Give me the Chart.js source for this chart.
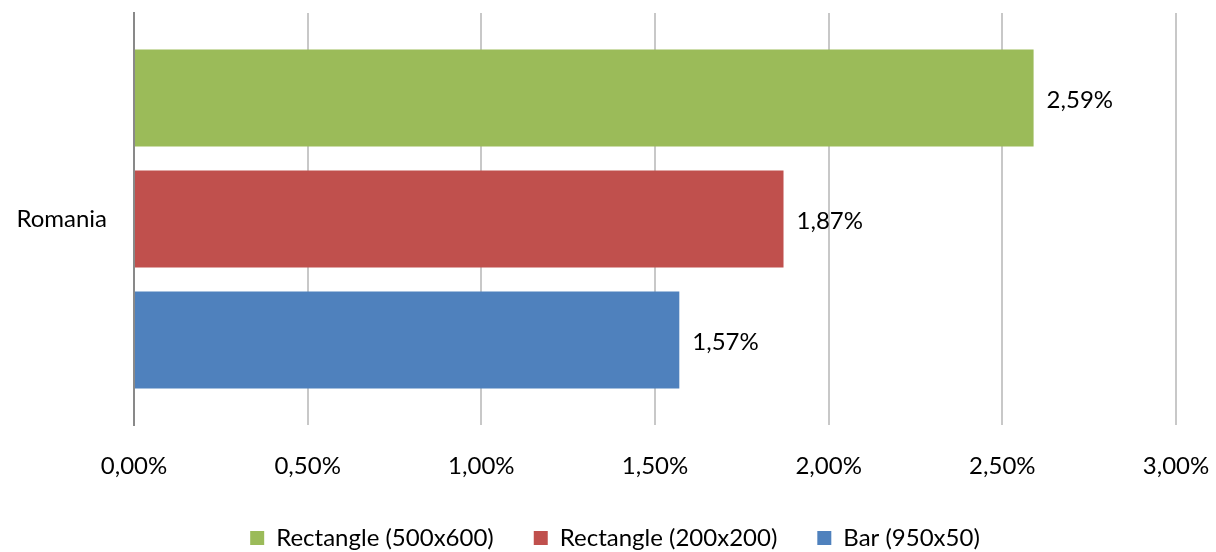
<!DOCTYPE html>
<html><head><meta charset="utf-8">
<script src="https://cdn.jsdelivr.net/npm/chart.js@4"></script>
<style>html,body{margin:0;padding:0;background:#fff}#wrap{width:1216px;height:552px}</style>
</head><body><div id="wrap"><canvas id="c" width="1216" height="552"></canvas></div>
<script>
const categories = ["Romania"];
const seriesNames = ["Rectangle (500x600)", "Rectangle (200x200)", "Bar (950x50)"];
const seriesColors = ["#9BBB59", "#C0504D", "#4F81BD"];
const greenValues = [2.59];
const redValues = [1.87];
const blueValues = [1.57];
const xTickMax = 3.0;
const xTickStep = 0.5;

const fmt = v => Number(v).toFixed(2).replace('.', ',') + '%';
const FONT = 'Lato, "Open Sans", sans-serif';

const labelPlugin = {
  id: 'barLabels',
  afterLayout(chart) {
    if (chart.legend) { chart.legend.left += 27; chart.legend.right += 27; }
  },
  afterDatasetsDraw(chart) {
    const ctx = chart.ctx;
    ctx.save();
    ctx.font = '24px ' + FONT;
    ctx.fillStyle = '#000';
    ctx.textAlign = 'left';
    ctx.textBaseline = 'middle';
    chart.data.datasets.forEach((ds, i) => {
      chart.getDatasetMeta(i).data.forEach((bar, j) => {
        ctx.fillText(fmt(ds.data[j]), bar.x + 13, bar.y + 2);
      });
    });
    ctx.restore();
  }
};

new Chart(document.getElementById('c'), {
  type: 'bar',
  data: {
    labels: categories,
    datasets: [
      { label: seriesNames[0], data: greenValues, backgroundColor: seriesColors[0] },
      { label: seriesNames[1], data: redValues, backgroundColor: seriesColors[1] },
      { label: seriesNames[2], data: blueValues, backgroundColor: seriesColors[2] }
    ]
  },
  options: {
    indexAxis: 'y',
    responsive: false,
    animation: false,
    categoryPercentage: 0.881,
    barPercentage: 0.80,
    layout: { padding: { top: 13, right: 40, left: 0, bottom: -8 } },
    plugins: {
      tooltip: { enabled: false },
      legend: {
        position: 'bottom',
        labels: {
          boxWidth: 14, boxHeight: 14, padding: 40,
          color: '#000',
          font: { family: FONT, size: 24 }
        }
      }
    },
    scales: {
      x: {
        min: 0, max: xTickMax,
        ticks: { stepSize: xTickStep, callback: v => fmt(v), color: '#000', padding: 27, font: { family: FONT, size: 24 } },
        grid: { color: '#C8C8C8', lineWidth: 2, drawTicks: false },
        border: { display: false },
        afterFit(scale) { scale.paddingLeft = 0; scale.paddingRight = 0; scale.height = 61; }
      },
      y: {
        ticks: { color: '#000', padding: 27, font: { family: FONT, size: 24 } },
        grid: { display: false, drawTicks: false },
        border: { display: true, color: '#898989', width: 2 },
        afterFit(scale) { scale.width = 134; scale.paddingTop = 0; scale.paddingBottom = 0; }
      }
    }
  },
  plugins: [labelPlugin]
});
</script></body></html>
